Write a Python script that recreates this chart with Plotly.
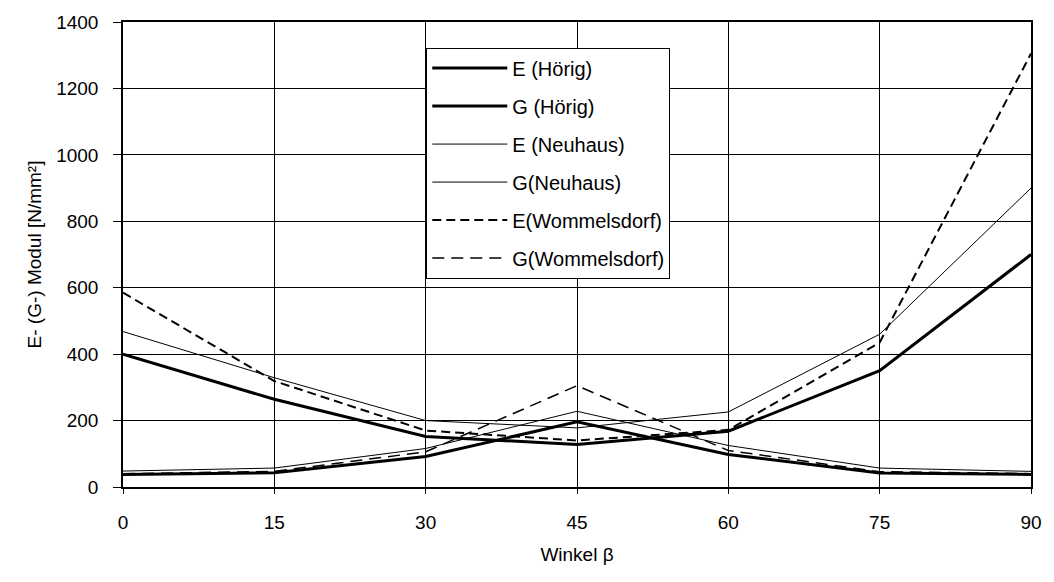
import plotly.graph_objects as go

winkel = [0, 15, 30, 45, 60, 75, 90]

e_hoerig = [400, 264, 152, 128, 168, 350, 700]
g_hoerig = [38, 43, 92, 196, 98, 42, 38]
e_neuhaus = [468, 329, 200, 178, 226, 460, 900]
g_neuhaus = [48, 57, 116, 228, 125, 57, 47]
e_wommelsdorf = [585, 319, 170, 140, 172, 435, 1305]
g_wommelsdorf = [40, 47, 106, 305, 110, 46, 40]

series = [
    ("E (Hörig)", e_hoerig, 3, "solid"),
    ("G (Hörig)", g_hoerig, 3, "solid"),
    ("E (Neuhaus)", e_neuhaus, 1, "solid"),
    ("G(Neuhaus)", g_neuhaus, 1, "solid"),
    ("E(Wommelsdorf)", e_wommelsdorf, 2, "9px,5px"),
    ("G(Wommelsdorf)", g_wommelsdorf, 1.5, "12px,7px"),
]

fig = go.Figure()
for i, (name, vals, w, dash) in enumerate(series):
    fig.add_trace(go.Scatter(
        x=winkel, y=vals, mode="lines", name=name,
        legendgroup=f"g{i}",
        line=dict(color="black", width=w, dash=dash),
    ))

font = dict(family="Liberation Sans, Arial, sans-serif", size=19, color="black")
legend_font = dict(family="Liberation Sans, Arial, sans-serif", size=20, color="black")

fig.update_layout(
    width=1054, height=582,
    margin=dict(l=123, r=21, t=17, b=95),
    paper_bgcolor="white", plot_bgcolor="white",
    font=font,
    showlegend=True,
    legend=dict(
        x=0.334, y=0.945, xanchor="left", yanchor="top",
        bordercolor="black", borderwidth=1, bgcolor="white",
        font=legend_font,
        tracegroupgap=9, itemwidth=75,
    ),
    xaxis=dict(
        range=[0, 90], tickvals=winkel, ticktext=[str(v) for v in winkel],
        showgrid=True, gridcolor="black", gridwidth=1,
        showline=True, linecolor="black", linewidth=1.5, mirror=True,
        ticks="outside", ticklen=5, tickcolor="black",
        ticklabelstandoff=12,
        zeroline=False,
        title=dict(text="Winkel β", standoff=16, font=font),
    ),
    yaxis=dict(
        range=[0, 1400], tickvals=list(range(0, 1401, 200)),
        showgrid=True, gridcolor="black", gridwidth=1,
        showline=True, linecolor="black", linewidth=1.5, mirror=True,
        ticks="outside", ticklen=8, tickcolor="black",
        ticklabelstandoff=11,
        zeroline=False,
        title=dict(text="E- (G-) Modul [N/mm²]", standoff=10, font=font),
    ),
)

fig.write_html("out.html")
